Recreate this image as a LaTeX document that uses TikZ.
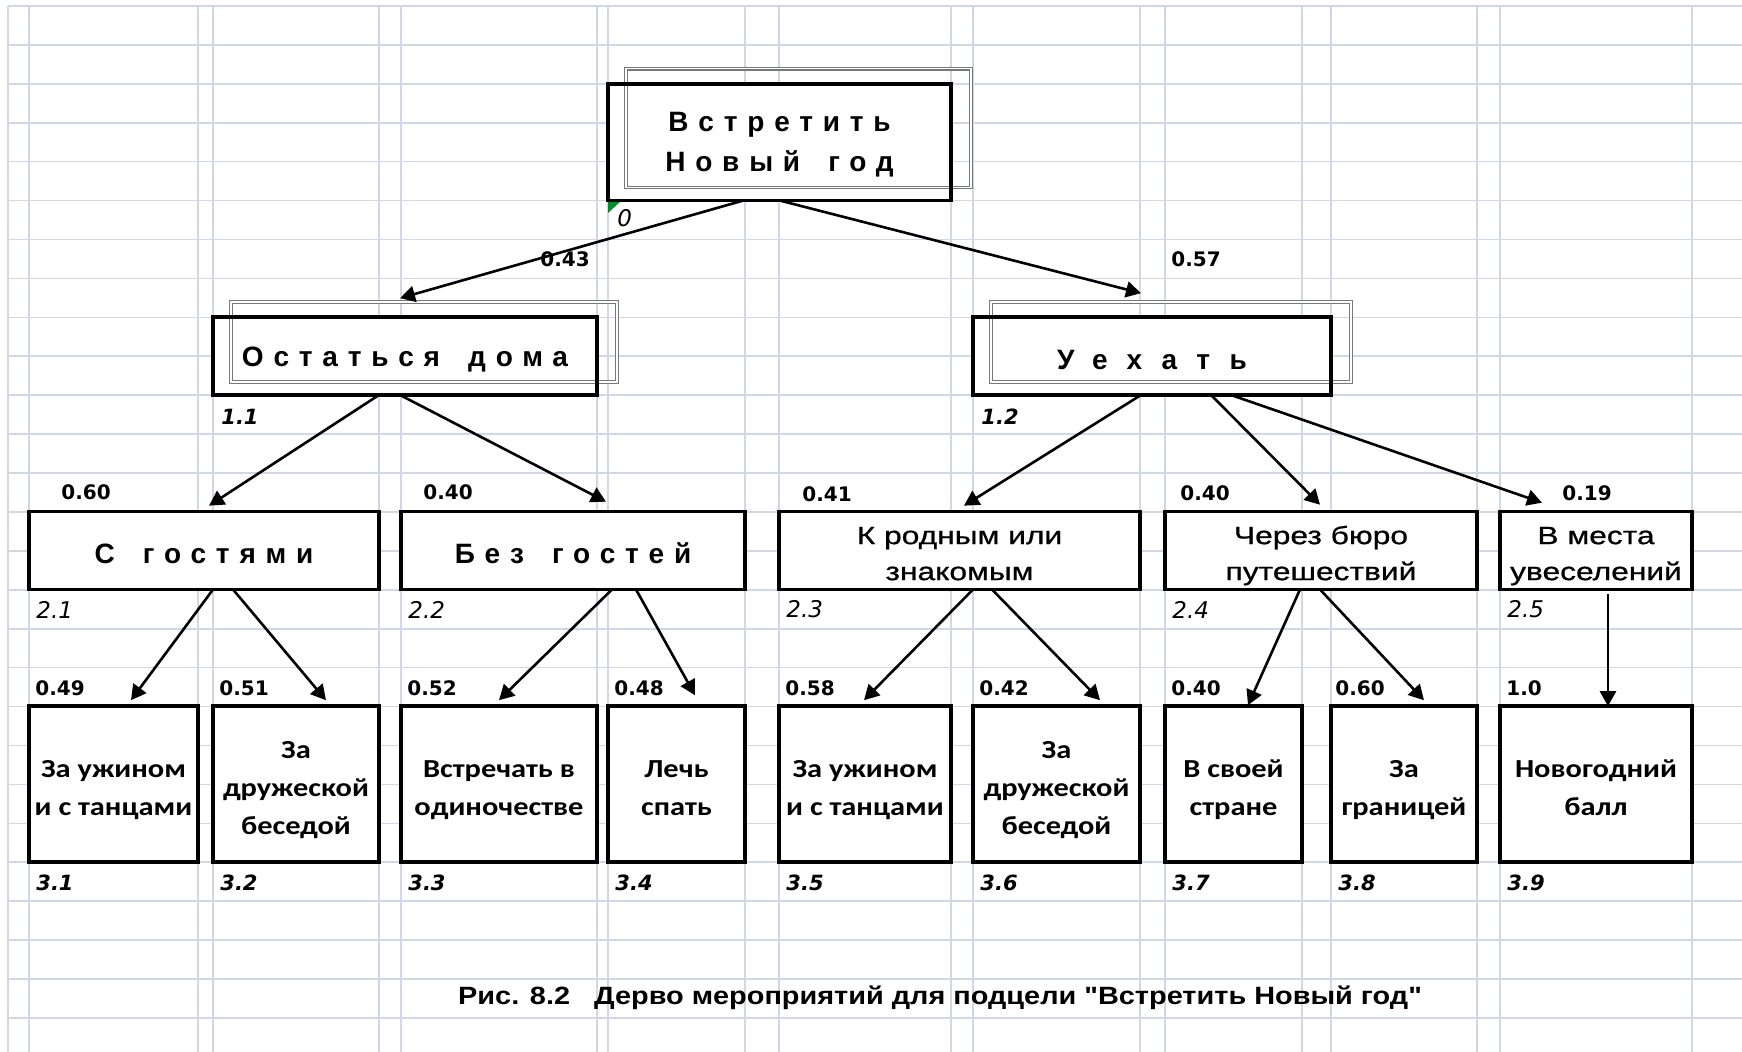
\documentclass[tikz,border=0pt]{standalone}
\usepackage{fontspec}
\setmainfont{Liberation Sans}
\newfontfamily\spacedfont[LetterSpace=35,WordSpace=1.6]{Liberation Sans}
\newfontfamily\widefont[LetterSpace=69]{Liberation Sans}
\newfontfamily\stretchfont[FakeStretch=1.27,FakeBold=0.8]{Liberation Sans}
\newfontfamily\cellfont[FakeStretch=1.17]{Carlito}
\newfontfamily\numfont[ItalicFont={DejaVu Sans Oblique},BoldItalicFont={DejaVu Sans Bold Oblique}]{DejaVu Sans}
\newfontfamily\captionfont[FakeStretch=1.155]{Liberation Sans}
\usetikzlibrary{arrows.meta,calc}
\definecolor{gridblue}{RGB}{208,215,230}
\definecolor{ghostgray}{RGB}{120,120,120}
\definecolor{markgreen}{RGB}{0,140,40}
\newcommand\leafstrut{\rule{0pt}{12.5pt}}
\newcommand\midstrut{\rule{0pt}{11.5pt}}
\tikzset{
  box/.style={draw, line width=1.75pt, fill=white, inner sep=0pt, outer sep=0pt, align=center},
  titlebox/.style={box, font=\spacedfont\bfseries\fontsize{14pt}{20pt}\selectfont,
    execute at begin node=\rule{0pt}{13.3pt}},
  midbox/.style={box, minimum height=38.9pt, text depth=0pt,
    font=\stretchfont\fontsize{12.5pt}{18pt}\selectfont},
  leafbox/.style={box, minimum height=77.8pt, text depth=0pt,
    font=\cellfont\bfseries\fontsize{13pt}{19pt}\selectfont},
  ghost/.style={draw=ghostgray, double=white, line width=0.6pt, double distance=0.7pt},
  arr/.style={line width=1.3pt, -{Triangle[length=7.5pt,width=8pt]}},
  wlabel/.style={anchor=west, inner sep=0pt, font=\numfont\bfseries\fontsize{10pt}{12pt}\selectfont},
  idx/.style={anchor=west, inner sep=0pt, font=\numfont\itshape\fontsize{11.5pt}{13pt}\selectfont},
  idxb/.style={idx, font=\numfont\bfseries\itshape\fontsize{10.5pt}{12pt}\selectfont},
}
\begin{document}
\begin{tikzpicture}[x=0.5pt,y=-0.5pt]
  \useasboundingbox (0,0) rectangle (1742,1052);
  \fill[white] (0,0) rectangle (1742,1052);
  \foreach \k in {0,...,26}
    \draw[gridblue, line width=0.8pt] (8,{6+38.92*\k}) -- (1742,{6+38.92*\k});
  \foreach \x in {8,29,198,213,379,401,597,608,745,779,951,973,1140,1165,1302,1331,1477,1500,1692}
    \draw[gridblue, line width=0.8pt] (\x,6) -- (\x,1052);

  \node[titlebox, minimum width=171.5pt, minimum height=58.4pt, text depth=0pt] (goal) at (779.5,142.2) {Встретить\\Новый год};
  \node[titlebox, minimum width=192pt, minimum height=38.9pt] (stay) at (405,356.1) {Остаться дома};
  \node[titlebox, minimum width=179pt, minimum height=38.9pt] (leave) at (1152,356.1) {\widefont Уехать};
  \foreach \n in {goal,stay,leave} {
    \draw[ghost] ($(\n.north west)+(18,-15)$) rectangle ($(\n.south east)+(20,-13)$);
    \draw[line width=1.75pt] (\n.north west) rectangle (\n.south east);
  }
  \fill[markgreen] (608,202) -- (620,202) -- (608,213) -- cycle;

  \node[titlebox, minimum width=175pt, minimum height=38.9pt] (guests) at (204,550.6) {С гостями};
  \node[titlebox, minimum width=172pt, minimum height=38.9pt] (noguests) at (573,550.6) {Без гостей};
  \node[midbox, minimum width=180.5pt] (relatives) at (959.5,550.6) {\midstrut К родным или\\знакомым};
  \node[midbox, minimum width=156pt] (bureau) at (1321,550.6) {\midstrut Через бюро\\путешествий};
  \node[midbox, minimum width=96pt] (fun) at (1596,550.6) {\midstrut В места\\увеселений};

  \node[leafbox, minimum width=84.5pt] (a1) at (113.5,784) {\leafstrut За ужином\\и с танцами};
  \node[leafbox, minimum width=83pt] (a2) at (296,784) {\leafstrut За\\дружеской\\беседой};
  \node[leafbox, minimum width=98pt] (a3) at (499,784) {\leafstrut Встречать в\\одиночестве};
  \node[leafbox, minimum width=68.5pt] (a4) at (676.5,784) {\leafstrut Лечь\\спать};
  \node[leafbox, minimum width=86pt] (a5) at (865,784) {\leafstrut За ужином\\и с танцами};
  \node[leafbox, minimum width=83.5pt] (a6) at (1056.5,784) {\leafstrut За\\дружеской\\беседой};
  \node[leafbox, minimum width=68.5pt] (a7) at (1233.5,784) {\leafstrut В своей\\стране};
  \node[leafbox, minimum width=73pt] (a8) at (1404,784) {\leafstrut За\\границей};
  \node[leafbox, minimum width=96pt] (a9) at (1596,784) {\leafstrut Новогодний\\балл};

  \draw[arr] ($(goal.south)+(-36.5,0)$) -- ($(stay.north)+(-5,-19)$);
  \draw[arr] ($(goal.south)+(0.5,0)$) -- ($(leave.north)+(-11,-24)$);
  \draw[arr] ($(stay.south)+(-26,0)$) -- ($(guests.north)+(5,-6)$);
  \draw[arr] ($(stay.south)+(-5,0)$) -- ($(noguests.north)+(33,-10)$);
  \draw[arr] ($(leave.south)+(-11,0)$) -- ($(relatives.north)+(4.5,-6)$);
  \draw[arr] ($(leave.south)+(59,0)$) -- ($(bureau.north)+(-1,-7)$);
  \draw[arr] ($(leave.south)+(79,0)$) -- ($(fun.north)+(-54,-9)$);
  \draw[arr] ($(guests.south)+(9,0)$) -- ($(a1.north)+(17.5,-6)$);
  \draw[arr] ($(guests.south)+(29,0)$) -- ($(a2.north)+(30,-6)$);
  \draw[arr] ($(noguests.south)+(39,0)$) -- ($(a3.north)+(0,-6)$);
  \draw[arr] ($(noguests.south)+(63,0)$) -- ($(a4.north)+(18.5,-11)$);
  \draw[arr] ($(relatives.south)+(13.5,0)$) -- ($(a5.north)+(-1,-6)$);
  \draw[arr] ($(relatives.south)+(32.5,0)$) -- ($(a6.north)+(43.5,-6)$);
  \draw[arr] ($(bureau.south)+(-21,0)$) -- ($(a7.north)+(14.5,-1)$);
  \draw[arr] ($(bureau.south)+(-1,0)$) -- ($(a8.north)+(20,-6)$);
  \draw[arr] ($(fun.south)+(12,5)$) -- ($(a9.north)+(12,0)$);

  \node[wlabel] (w11) at (540,259) {0.43};
  \node[wlabel] (w12) at (1171,259) {0.57};
  \node[wlabel] (w21) at (61,492) {0.60};
  \node[wlabel] (w22) at (423,492) {0.40};
  \node[wlabel] (w23) at (802,494) {0.41};
  \node[wlabel] (w24) at (1180,493) {0.40};
  \node[wlabel] (w25) at (1562,493) {0.19};
  \node[wlabel] (w31) at ($(a1.north west)+(6,-18)$) {0.49};
  \node[wlabel] (w32) at ($(a2.north west)+(6,-18)$) {0.51};
  \node[wlabel] (w33) at ($(a3.north west)+(6,-18)$) {0.52};
  \node[wlabel] (w34) at ($(a4.north west)+(6,-18)$) {0.48};
  \node[wlabel] (w35) at ($(a5.north west)+(6,-18)$) {0.58};
  \node[wlabel] (w36) at ($(a6.north west)+(6,-18)$) {0.42};
  \node[wlabel] (w37) at ($(a7.north west)+(6,-18)$) {0.40};
  \node[wlabel] (w38) at ($(a8.north west)+(4,-18)$) {0.60};
  \node[wlabel] (w39) at ($(a9.north west)+(6,-18)$) {1.0};

  \node[idx] (i0) at ($(goal.south west)+(9,18)$) {0};
  \node[idxb] (i11) at ($(stay.south west)+(8,22)$) {1.1};
  \node[idxb] (i12) at ($(leave.south west)+(8,22)$) {1.2};
  \foreach \n/\t in {guests/2.1,noguests/2.2,relatives/2.3,bureau/2.4,fun/2.5}
    \node[idx] (i\n) at ($(\n.south west)+(7,20)$) {\t};
  \foreach \n/\t in {a1/3.1,a2/3.2,a3/3.3,a4/3.4,a5/3.5,a6/3.6,a7/3.7,a8/3.8,a9/3.9}
    \node[idxb] (i\n) at ($(\n.south west)+(7,21)$) {\t};

  \node[inner sep=0pt, font=\captionfont\bfseries\fontsize{12.5pt}{15pt}\selectfont] (caption) at (940,998)
    {Рис. 8.2~~~Дерво мероприятий для подцели "Встретить Новый год"};
\end{tikzpicture}
\end{document}
